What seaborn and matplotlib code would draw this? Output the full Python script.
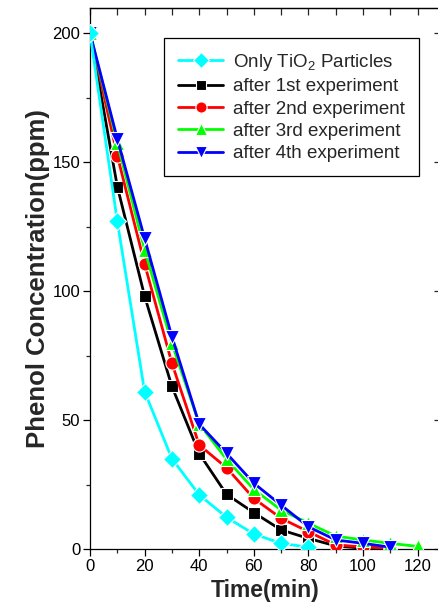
import numpy as np
import pandas as pd
import seaborn as sns
from matplotlib import pyplot as plt

# data (time in min, concentration in ppm)
time = [0, 10, 20, 30, 40, 50, 60, 70, 80, 90, 100, 110, 120]
tio2 = [200, 127, 61, 35, 21, 12.3, 5.8, 2.2, 0.7]
exp1 = [200, 140.5, 98, 63, 37, 21.2, 14.1, 7.4, 4.1, 1.2, 0.3, 0]
exp2 = [200, 152.5, 110.5, 72, 40.3, 31.5, 19.6, 11.9, 6.7, 1.6, 0.8, 0.3]
exp3 = [200, 157.5, 116, 79.7, 48.5, 34.8, 23.1, 15.1, 10, 5, 3.5, 2.2, 1]
exp4 = [200, 159, 120.4, 82.3, 48.4, 37.1, 25.5, 17, 8.6, 3.5, 2.2, 0.7]

labels = ['Only TiO$_2$ Particles', 'after 1st experiment', 'after 2nd experiment',
          'after 3rd experiment', 'after 4th experiment']
series = [tio2, exp1, exp2, exp3, exp4]
colors = ['#00FFFF', '#000000', '#FF0000', '#00FF00', '#0000FF']
markers = ['D', 's', 'o', '^', 'v']
msizes = [9, 8.5, 9.5, 9.5, 10]
zorders = [6, 2, 3, 4, 5]

sns.set_style('ticks')
plt.rcParams['font.family'] = ['Liberation Sans', 'DejaVu Sans']
plt.rcParams['mathtext.fontset'] = 'custom'
plt.rcParams['mathtext.rm'] = 'Liberation Sans'

fig = plt.figure(figsize=(4.39, 6.15), dpi=100)
ax = fig.add_axes([90 / 439, 1 - 549 / 615, 349.5 / 439, 541 / 615])

for lab, vals, c, m, ms, z in zip(labels, series, colors, markers, msizes, zorders):
    df = pd.DataFrame({'t': time[:len(vals)], 'c': vals})
    sns.lineplot(data=df, x='t', y='c', ax=ax, color=c, marker=m, markersize=ms,
                 markeredgecolor='white', markeredgewidth=0.8, linewidth=2,
                 label=lab, zorder=z)

ax.set_xlim(0, 128)
ax.set_ylim(0, 209.7)
ax.set_xticks(np.arange(0, 121, 20))
ax.set_xticks(np.arange(0, 128, 10), minor=True)
ax.set_yticks(np.arange(0, 201, 50))
ax.set_yticks(np.arange(0, 210, 25), minor=True)
ax.tick_params(which='major', direction='out', length=5, width=0.9, labelsize=12,
               colors='black', pad=2)
ax.tick_params(which='minor', direction='out', length=3, width=0.9)
for s in ['left', 'bottom', 'top']:
    ax.spines[s].set_linewidth(0.9)
    ax.spines[s].set_color('black')
ax.spines['right'].set_visible(False)
ax.spines['top'].set_visible(True)

# top mirror ticks (every 10, inward)
top = ax.secondary_xaxis('top')
top.set_xticks(np.arange(0, 128, 10))
top.tick_params(direction='in', length=5, width=0.9, labeltop=False)
top.spines['top'].set_linewidth(0.9)

# right mirror ticks (majors, inward)
right = ax.secondary_yaxis('right')
right.set_yticks(np.arange(0, 201, 50))
right.tick_params(direction='in', length=4, width=0.9, labelright=False)
right.spines['right'].set_visible(False)

ax.set_xlabel('Time(min)', fontsize=16.5, fontweight='bold', labelpad=4)
ax.set_ylabel('Phenol Concentration(ppm)', fontsize=18.5, fontweight='bold', labelpad=2)

leg = ax.legend(loc='upper right', bbox_to_anchor=(0.94, 0.945), borderaxespad=0,
                fontsize=13.5, handlelength=2.4, labelspacing=0.28, handletextpad=0.5,
                borderpad=0.75, fancybox=False, framealpha=1, edgecolor='black',
                markerscale=0.85)
leg.get_frame().set_linewidth(0.9)

fig.savefig('out.png', dpi=100)
